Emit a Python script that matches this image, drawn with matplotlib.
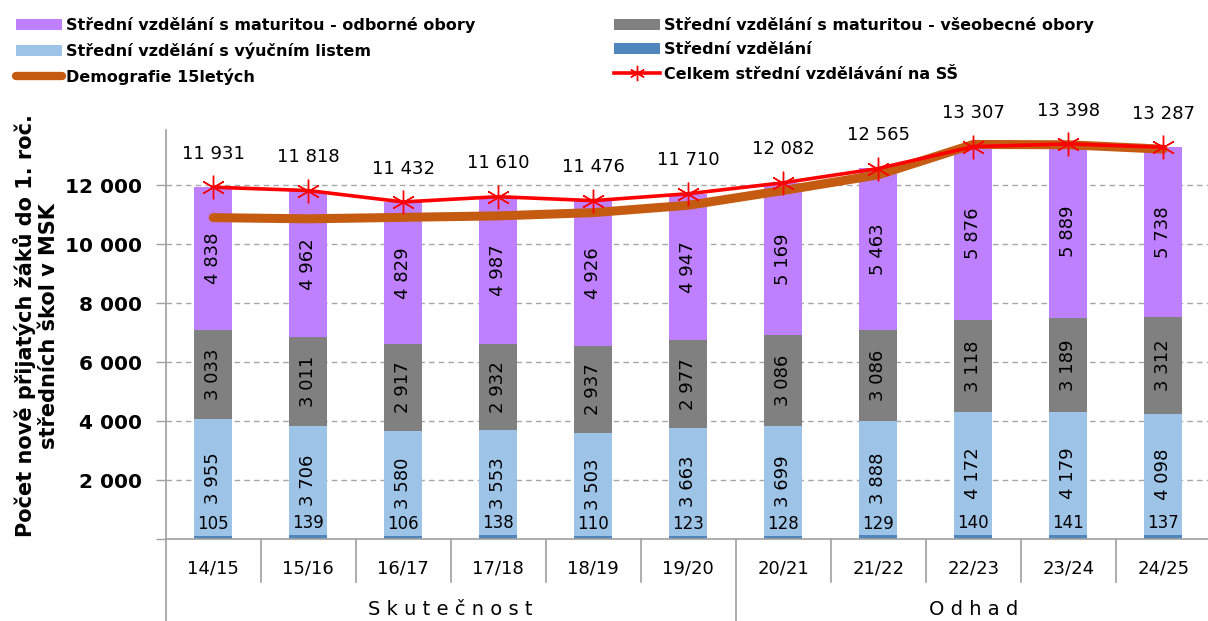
import matplotlib
matplotlib.use("Agg")
import matplotlib.pyplot as plt
from matplotlib.lines import Line2D
from matplotlib.patches import Patch
import numpy as np

# ---------------- data ----------------
categories = ["14/15", "15/16", "16/17", "17/18", "18/19", "19/20",
              "20/21", "21/22", "22/23", "23/24", "24/25"]
groups = ["S k u t e č n o s t", "O d h a d"]
group_sizes = [6, 5]

stredni = [105, 139, 106, 138, 110, 123, 128, 129, 140, 141, 137]
vyucni = [3955, 3706, 3580, 3553, 3503, 3663, 3699, 3888, 4172, 4179, 4098]
vseobecne = [3033, 3011, 2917, 2932, 2937, 2977, 3086, 3086, 3118, 3189, 3312]
odborne = [4838, 4962, 4829, 4987, 4926, 4947, 5169, 5463, 5876, 5889, 5738]
celkem = [11931, 11818, 11432, 11610, 11476, 11710, 12082, 12565, 13307, 13398, 13287]
demografie = [10900, 10860, 10910, 10960, 11070, 11320, 11820, 12350, 13380, 13370, 13220]

lab_odborne = "Střední vzdělání s maturitou - odborné obory"
lab_vseobecne = "Střední vzdělání s maturitou - všeobecné obory"
lab_vyucni = "Střední vzdělání s výučním listem"
lab_stredni = "Střední vzdělání"
lab_demo = "Demografie 15letých"
lab_celkem = "Celkem střední vzdělávání na SŠ"
ylabel = "Počet nově přijatých žáků do 1. roč.\nstředních škol v MSK"

# ---------------- style ----------------
C_ODB = "#BF80FF"
C_VSE = "#808080"
C_VYU = "#9DC3E6"
C_STR = "#4F87BD"
C_DEM = "#C55A11"
C_CEL = "#FF0000"

plt.rcParams["font.family"] = ["DejaVu Sans"]


def fmt(v):
    return f"{v:,}".replace(",", " ")


W, H = 1208, 621
fig = plt.figure(figsize=(W / 100, H / 100), dpi=100)
ax_left, ax_right = 165.7, 1210.7
ax_top, ax_bot = 130.0, 539.3
ax = fig.add_axes([ax_left / W, 1 - ax_bot / H, (ax_right - ax_left) / W, (ax_bot - ax_top) / H])

x = np.arange(len(categories))
bw = 0.4
s = np.array(stredni)
vy = np.array(vyucni)
vs = np.array(vseobecne)
od = np.array(odborne)

ax.bar(x, s, bw, color=C_STR, zorder=2)
ax.bar(x, vy, bw, bottom=s, color=C_VYU, zorder=2)
ax.bar(x, vs, bw, bottom=s + vy, color=C_VSE, zorder=2)
ax.bar(x, od, bw, bottom=s + vy + vs, color=C_ODB, zorder=2)

ax.plot(x, demografie, color=C_DEM, lw=6.5, solid_capstyle="round",
        solid_joinstyle="round", zorder=3)
ax.plot(x, celkem, color=C_CEL, lw=2.6, marker=(6, 2, 0), markersize=17,
        markeredgecolor=C_CEL, markeredgewidth=1.0, zorder=4)

# segment labels
for i in range(len(x)):
    ax.annotate(fmt(stredni[i]), (x[i], s[i]), xytext=(0, 2), textcoords="offset points",
                ha="center", va="bottom", fontsize=12, zorder=5)
    ax.text(x[i], s[i] + vy[i] / 2, fmt(vyucni[i]), rotation=90, ha="center", va="center",
            fontsize=13, zorder=5)
    ax.text(x[i], s[i] + vy[i] + vs[i] / 2, fmt(vseobecne[i]), rotation=90, ha="center",
            va="center", fontsize=13, zorder=5)
    ax.text(x[i], s[i] + vy[i] + vs[i] + od[i] / 2, fmt(odborne[i]), rotation=90, ha="center",
            va="center", fontsize=13, zorder=5)
    ax.annotate(fmt(celkem[i]), (x[i], celkem[i]), xytext=(0, 24), textcoords="offset points",
                ha="center", va="center", fontsize=13, zorder=5)

# axes
ax.set_xlim(-0.5, len(x) - 0.5)
ax.set_ylim(0, 13870)
ax.set_yticks(np.arange(0, 13000, 2000))
ax.set_yticklabels([""] + [fmt(v) for v in range(2000, 13000, 2000)],
                   fontsize=14.5, fontweight="bold")
for gv in range(2000, 13000, 2000):
    ax.axhline(gv, color="#A6A6A6", lw=1.0, ls=(0, (4, 3)), zorder=1)
ax.tick_params(axis="y", direction="out", length=7, width=1, color="#A0A0A0", pad=10)
ax.set_xticks([])
for sp in ["top", "right"]:
    ax.spines[sp].set_visible(False)
ax.spines["left"].set_color("#A0A0A0")
ax.spines["bottom"].set_color("#A0A0A0")
ax.spines["left"].set_linewidth(1.2)
ax.spines["bottom"].set_linewidth(1.2)

# category labels & separators
trans = ax.get_xaxis_transform()
px = 1.0 / (ax_bot - ax_top)  # axes fraction per pixel
for i, c in enumerate(categories):
    ax.text(x[i], -29 * px, c, transform=trans, ha="center", va="center", fontsize=13)
boundaries = [0]
for g in group_sizes:
    boundaries.append(boundaries[-1] + g)
for b in range(len(x) + 1):
    xb = b - 0.5
    low = -(H - ax_bot) * px if b in boundaries else -43 * px
    ax.add_line(Line2D([xb, xb], [0, low], transform=trans, color="#A0A0A0", lw=1.2,
                       clip_on=False))
for gi, g in enumerate(groups):
    start, end = boundaries[gi], boundaries[gi + 1]
    ax.text((start + end - 1) / 2, -70 * px, g, transform=trans, ha="center", va="center",
            fontsize=14)

fig.text(36 / W, 1 - 326 / H, ylabel, rotation=90, ha="center", va="center",
         fontsize=15, fontweight="bold", multialignment="center", linespacing=1.15)

# legends
h_odb = Patch(facecolor=C_ODB)
h_vse = Patch(facecolor=C_VSE)
h_vyu = Patch(facecolor=C_VYU)
h_str = Patch(facecolor=C_STR)
h_dem = Line2D([], [], color=C_DEM, lw=6, solid_capstyle="round")
h_cel = Line2D([], [], color=C_CEL, lw=2.6, marker=(6, 2, 0), markersize=11,
               markeredgewidth=1.0)
common = dict(frameon=False, handlelength=2.9, handletextpad=0.25, labelspacing=0.58,
              prop={"weight": "bold", "size": 11.5}, loc="upper left", borderaxespad=0,
              borderpad=0)
leg1 = fig.legend([h_odb, h_vyu, h_dem], [lab_odborne, lab_vyucni, lab_demo],
                  bbox_to_anchor=(16 / W, 1 - 17 / H), **common)
leg2 = fig.legend([h_vse, h_str, h_cel], [lab_vseobecne, lab_stredni, lab_celkem],
                  bbox_to_anchor=(614 / W, 1 - 17 / H), **common)

fig.savefig("out.png", dpi=100)
